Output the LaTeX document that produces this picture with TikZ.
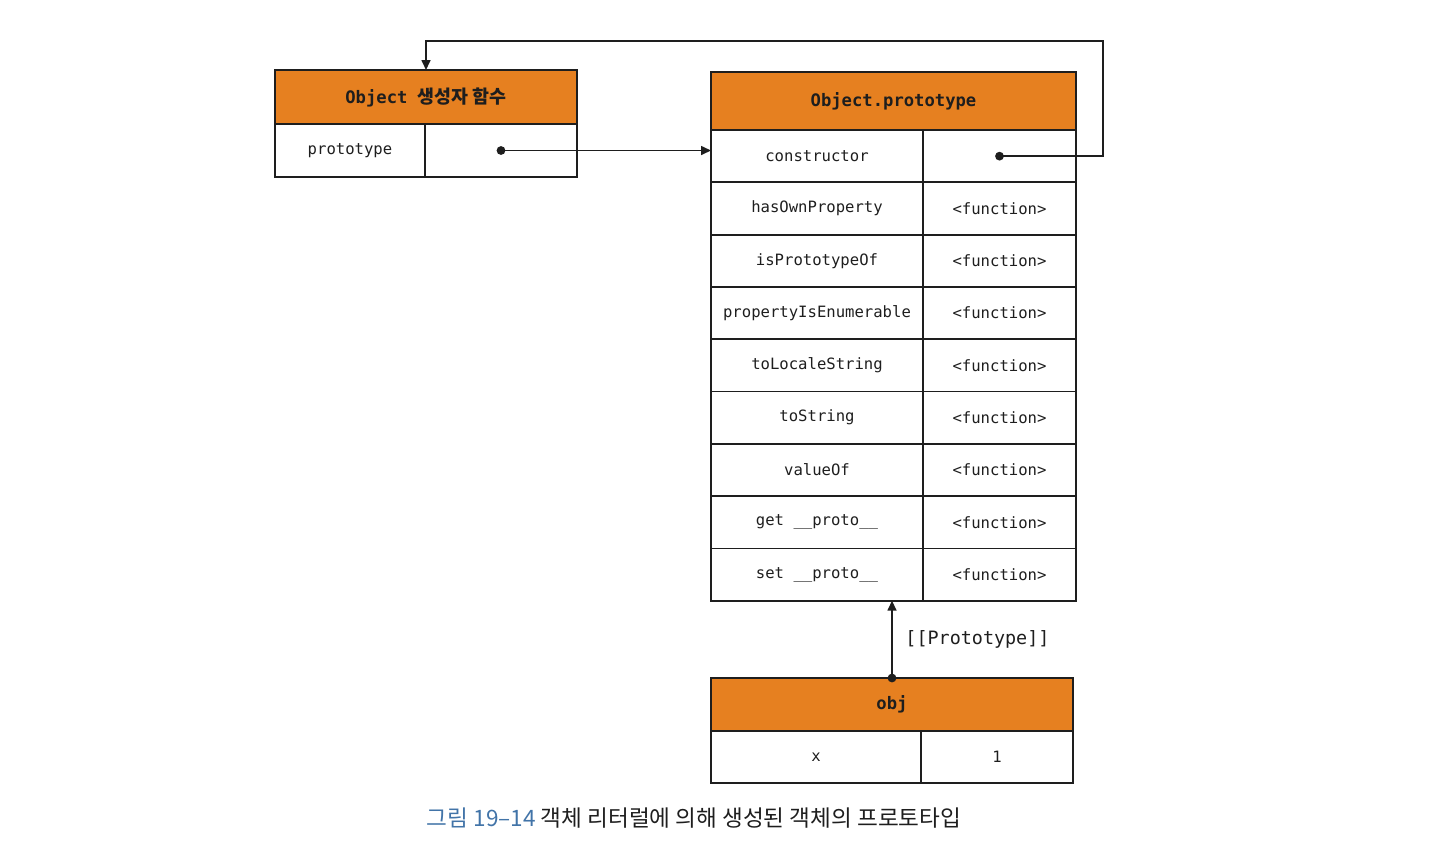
\documentclass[tikz,border=0pt]{standalone}
\usepackage{fontspec}
\setmonofont{DejaVu Sans Mono}
\newfontfamily\cjk{Noto Sans CJK KR}
\usetikzlibrary{arrows.meta}
\definecolor{headorange}{RGB}{230,128,32}
\definecolor{capblue}{RGB}{66,116,168}
\definecolor{ink}{RGB}{30,30,30}

\tikzset{
  cell/.style={draw=ink, line width=0.9pt, outer sep=0pt, inner sep=0pt, text=ink,
    font=\ttfamily\fontsize{7.8}{9}\selectfont},
  head/.style={cell, fill=headorange, font=\ttfamily\bfseries\fontsize{8.6}{10}\selectfont},
  ptr/.style={draw=ink, line width=0.8pt, -{Triangle[length=5pt,width=4.5pt]}},
  dot/.style={fill=ink},
}

\begin{document}
\begin{tikzpicture}[x=0.5pt,y=-0.5pt]
\useasboundingbox (0,0) rectangle (1440,848);

% Object constructor function
\node[head, minimum width=151pt, minimum height=27pt] (ctor) at (426,97) {Object {\cjk\bfseries\fontsize{9.2}{10}\selectfont 생성자 함수}};
\node[cell, minimum width=75pt, minimum height=26.5pt] (ctorkey) at (350,150.5) {prototype};
\node[cell, minimum width=76pt, minimum height=26.5pt] (ctorval) at (501,150.5) {};

% Object.prototype
\node[head, minimum width=182.5pt, minimum height=29pt] (proto) at (893.5,101) {Object.prototype};
\foreach [count=\i] \name in {constructor,hasOwnProperty,isPrototypeOf,propertyIsEnumerable,toLocaleString,toString,valueOf,get \_\_proto\_\_,set \_\_proto\_\_}
{
  \node[cell, minimum width=106pt, minimum height=26.15pt] (k\i) at (817,{130+52.3*(\i-0.5)}) {\name};
  \node[cell, minimum width=76.5pt, minimum height=26.15pt] (v\i) at (999.5,{130+52.3*(\i-0.5)}) {\ifnum\i>1 <function>\fi};
}

% obj
\node[head, minimum width=181pt, minimum height=26.5pt] (obj) at (892,704.5) {obj};
\node[cell, minimum width=105pt, minimum height=26pt] (objkey) at (816,757) {x};
\node[cell, minimum width=76pt, minimum height=26pt] (objval) at (997,757) {1};

% pointers
\coordinate (loop) at (1103,41);
\fill[dot] (ctorval.center) circle (2.2pt);
\draw[ptr] (ctorval.center) -- (ctorval.center -| k1.west);
\fill[dot] (v1.center) circle (2.2pt);
\draw[ptr] (v1.center) -- (v1.center -| loop) -- (loop) -| (ctor.north);
\fill[dot] (obj.north) circle (2.2pt);
\draw[ptr] (obj.north) -- (obj.north |- k9.south)
  node[midway, right=3pt, font=\ttfamily\fontsize{9.2}{11}\selectfont, text=ink] (protolbl) {[[Prototype]]};

% caption
\node[font=\cjk\fontsize{11.3}{13}\selectfont, text=ink] (cap) at (694,818) {\textcolor{capblue}{그림 19–14} 객체 리터럴에 의해 생성된 객체의 프로토타입};
\end{tikzpicture}
\end{document}
